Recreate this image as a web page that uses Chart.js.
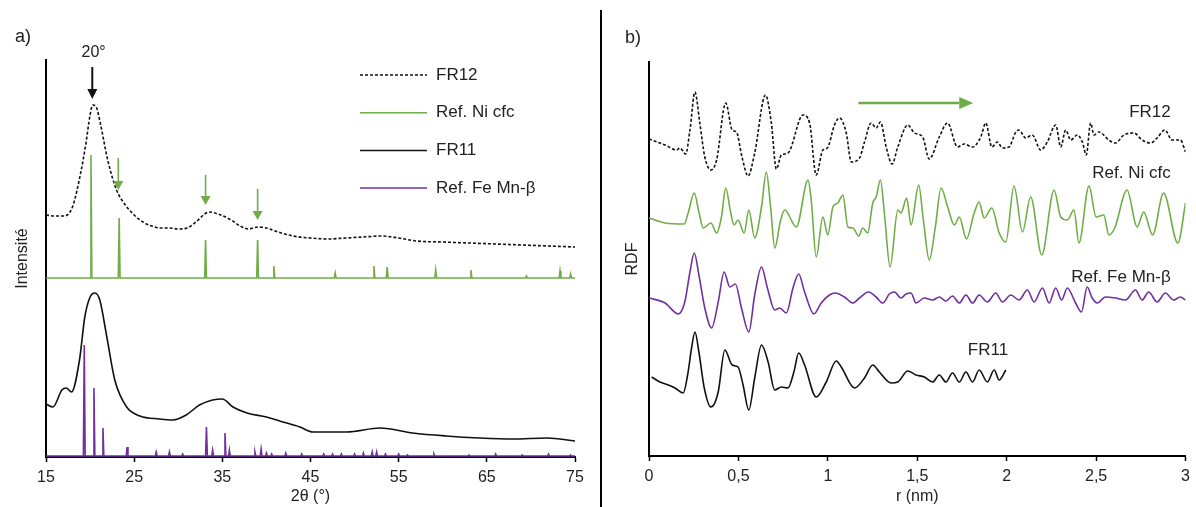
<!DOCTYPE html>
<html lang="fr">
<head>
<meta charset="utf-8">
<title>DRX et RDF - FR11 / FR12</title>
<script src="https://cdn.jsdelivr.net/npm/chart.js@4.4.1/dist/chart.umd.min.js"></script>
<style>
  html, body { margin: 0; padding: 0; background: #fff; }
  #page { position: relative; width: 1196px; height: 507px; overflow: hidden; font-family: "Liberation Sans", Arial, sans-serif; }
  #xrd { position: absolute; left: 0; top: 0; }
  #rdf { position: absolute; left: 600px; top: 0; }
  #sep { position: absolute; left: 600px; top: 10px; width: 2px; height: 497px; background: #000; }
  .tag { position: absolute; font-size: 18px; color: #222; line-height: 1; }
</style>
</head>
<body>
<div id="page">
  <canvas id="xrd" width="600" height="507"></canvas>
  <canvas id="rdf" width="596" height="507"></canvas>
  <div id="sep"></div>
  <div class="tag" style="left:15px; top:27px;">a)</div>
  <div class="tag" style="left:625px; top:28px;">b)</div>
</div>
<script>
// ---- a) diffractogrammes (2θ en degrés, intensité en u.a.) ----
const fr12Angle = [15, 16, 17, 18, 19, 19.5, 20, 20.3, 20.7, 21.2, 22, 23, 24, 25, 26, 27, 28, 29, 30, 31, 32, 33, 33.5, 34.5, 36, 37, 38, 39, 40, 41, 43, 45, 47, 49, 51, 53, 55, 57, 60, 63, 66, 69, 72, 75];
const fr12Int = [242, 241, 241, 250, 287, 312, 342, 352, 350, 332, 297, 267, 252, 242, 235, 231, 229, 229, 228, 229, 235, 243, 245, 243, 237, 231, 228, 230, 229, 226, 221, 219, 218, 219, 220, 221, 219, 216, 215, 214, 213, 212, 211, 210];

const fr11Angle = [15, 15.8, 16.8, 17.3, 17.9, 18.8, 19.4, 20, 20.55, 21.1, 21.9, 22.8, 24.15, 25.66, 27.9, 29.4, 30.9, 32.4, 33.9, 35, 36.2, 37.8, 40, 41.5, 43.8, 45.3, 49.1, 52.9, 56.6, 60.4, 64.2, 68, 71.8, 75];
const fr11Int = [53, 50, 67, 69, 65, 97, 140, 160, 164, 157, 120, 77, 50, 41, 38, 37, 42, 52, 57, 58, 50, 44, 40, 36, 30, 25, 25, 29, 24, 21, 19, 18, 19, 16];

const niPeakAngle = [20.1, 23.3, 33.1, 39.0, 40.85, 47.8, 52.2, 53.7, 59.2, 63.2, 69.5, 73.3, 74.5];
const niPeakInt = [302, 239, 217, 217, 191, 184, 191, 190, 187, 187, 181, 186, 183];
const niBase = 179;

const fePeakAngle = [19.34, 20.44, 21.46, 24.2, 27.5, 29.0, 30.5, 33.2, 33.9, 35.3, 35.8, 38.7, 39.4, 40.0, 40.6, 42.2, 44.0, 46.5, 47.5, 48.5, 50.0, 51.0, 52.0, 52.5, 53.5, 55.0, 56.0, 59.0, 63.0, 66.0, 69.0, 72.0, 74.5];
const fePeakInt = [112, 69, 29, 10, 5, 5, 3, 30, 7, 24, 7, 5, 8, 4, 3, 4, 3, 3, 3, 3, 3, 4, 5, 5, 3, 3, 2, 3, 2, 3, 2, 3, 2];
const feBase = 1;

// ---- b) fonctions de distribution radiale (r en nm) ----
const fr12R = [0, 0.09, 0.154, 0.173, 0.205, 0.229, 0.257, 0.284, 0.312, 0.346, 0.378, 0.429, 0.465, 0.489, 0.52, 0.554, 0.591, 0.651, 0.684, 0.712, 0.74, 0.777, 0.861, 0.898, 0.935, 0.972, 0.997, 1.037, 1.065, 1.103, 1.131, 1.177, 1.205, 1.242, 1.27, 1.294, 1.326, 1.359, 1.391, 1.447, 1.484, 1.53, 1.567, 1.623, 1.669, 1.725, 1.762, 1.809, 1.855, 1.883, 1.917, 1.948, 1.976, 2.013, 2.051, 2.069, 2.106, 2.143, 2.19, 2.227, 2.274, 2.302, 2.33, 2.358, 2.395, 2.423, 2.445, 2.469, 2.488, 2.516, 2.571, 2.608, 2.655, 2.711, 2.757, 2.804, 2.841, 2.884, 2.925, 2.971, 3.0];
const fr12Rdf = [317, 311, 306, 308, 302, 326, 364, 333, 299, 286, 296, 353, 326, 324, 299, 280, 303, 361, 333, 287, 301, 303, 341, 333, 281, 306, 308, 331, 338, 323, 294, 298, 314, 333, 328, 334, 309, 292, 309, 331, 323, 319, 297, 319, 333, 309, 312, 309, 319, 333, 309, 314, 308, 309, 324, 326, 318, 321, 306, 314, 331, 309, 326, 316, 321, 314, 301, 333, 321, 324, 316, 313, 321, 323, 316, 313, 318, 326, 316, 316, 304];

const niR = [0, 0.09, 0.197, 0.219, 0.253, 0.279, 0.303, 0.346, 0.378, 0.405, 0.429, 0.457, 0.476, 0.498, 0.532, 0.558, 0.591, 0.629, 0.656, 0.68, 0.703, 0.736, 0.759, 0.824, 0.889, 0.907, 0.935, 0.972, 1.0, 1.028, 1.056, 1.084, 1.112, 1.14, 1.173, 1.195, 1.223, 1.251, 1.27, 1.294, 1.316, 1.348, 1.391, 1.409, 1.441, 1.465, 1.508, 1.534, 1.567, 1.601, 1.633, 1.67, 1.707, 1.735, 1.775, 1.818, 1.846, 1.874, 1.917, 1.958, 1.995, 2.041, 2.088, 2.134, 2.196, 2.265, 2.302, 2.339, 2.376, 2.404, 2.46, 2.5, 2.543, 2.571, 2.604, 2.673, 2.729, 2.766, 2.816, 2.877, 2.957, 3.0];
const niRdf = [238, 233, 232, 243, 263, 244, 228, 233, 223, 239, 268, 243, 231, 236, 223, 246, 218, 249, 284, 249, 208, 236, 246, 229, 276, 256, 199, 239, 221, 249, 253, 261, 229, 228, 220, 228, 223, 253, 259, 276, 243, 189, 246, 243, 258, 231, 271, 236, 196, 229, 268, 249, 231, 239, 217, 243, 254, 238, 248, 223, 214, 270, 224, 259, 201, 266, 239, 236, 246, 213, 270, 239, 241, 221, 228, 266, 229, 244, 221, 263, 213, 253];

const feR = [0, 0.09, 0.164, 0.2, 0.229, 0.253, 0.279, 0.312, 0.35, 0.387, 0.42, 0.452, 0.483, 0.517, 0.558, 0.591, 0.629, 0.662, 0.703, 0.731, 0.768, 0.805, 0.837, 0.87, 0.922, 0.963, 1.009, 1.041, 1.093, 1.14, 1.177, 1.227, 1.27, 1.307, 1.344, 1.372, 1.409, 1.437, 1.465, 1.493, 1.539, 1.586, 1.623, 1.66, 1.697, 1.735, 1.772, 1.809, 1.846, 1.892, 1.939, 1.976, 2.023, 2.069, 2.116, 2.153, 2.2, 2.237, 2.274, 2.307, 2.339, 2.385, 2.418, 2.45, 2.478, 2.506, 2.553, 2.608, 2.664, 2.72, 2.757, 2.794, 2.841, 2.887, 2.934, 2.971, 3.0];
const feRdf = [158, 153, 142, 154, 184, 203, 181, 148, 128, 154, 184, 169, 172, 148, 124, 161, 189, 168, 146, 148, 143, 168, 182, 164, 142, 153, 161, 163, 159, 153, 158, 164, 159, 153, 162, 164, 158, 162, 163, 153, 158, 156, 159, 155, 160, 153, 161, 153, 161, 154, 163, 154, 161, 156, 166, 154, 168, 153, 168, 156, 168, 153, 144, 169, 158, 153, 159, 158, 156, 166, 156, 164, 154, 163, 156, 159, 156];

const fr11R = [0.015, 0.061, 0.108, 0.145, 0.191, 0.216, 0.238, 0.257, 0.279, 0.309, 0.346, 0.387, 0.424, 0.465, 0.498, 0.526, 0.558, 0.591, 0.629, 0.666, 0.703, 0.74, 0.777, 0.81, 0.837, 0.87, 0.935, 0.991, 1.047, 1.075, 1.149, 1.205, 1.251, 1.288, 1.354, 1.391, 1.447, 1.493, 1.539, 1.586, 1.623, 1.66, 1.697, 1.735, 1.772, 1.809, 1.846, 1.892, 1.93, 1.958, 1.995];
const fr11Rdf = [79, 74, 71, 68, 63, 81, 108, 124, 104, 68, 49, 64, 106, 91, 89, 71, 46, 78, 111, 94, 66, 69, 68, 84, 103, 91, 59, 74, 95, 89, 68, 78, 91, 84, 73, 74, 85, 81, 79, 74, 81, 74, 83, 74, 84, 74, 86, 74, 86, 76, 86];

const GREEN = '#70ad47';
const PURPLE = '#7030a0';
const INK = '#111';
const FONT = '"Liberation Sans", Arial, sans-serif';

function pts(xs, ys) {
    return xs.map((x, i) => ({ x: x, y: ys[i] }));
}

// reference pattern: thin peaks standing on a flat baseline
function sticks(pos, top, base, x0, x1) {
    const out = [{ x: x0, y: base }];
    pos.forEach((p, i) => {
        out.push({ x: p - 0.1, y: base }, { x: p, y: top[i] }, { x: p + 0.1, y: base });
    });
    out.push({ x: x1, y: base });
    return out;
}

/**
 * Arrows and free labels, given in data coordinates
 */
const notesPlugin = {
    id: 'notes',
    afterDatasetsDraw(chart, args, opts) {
        const { ctx } = chart;
        const sx = chart.scales.x, sy = chart.scales.y;
        ctx.save();
        (opts.arrows || []).forEach(a => {
            const x0 = sx.getPixelForValue(a.from[0]), y0 = sy.getPixelForValue(a.from[1]);
            const x1 = sx.getPixelForValue(a.to[0]), y1 = sy.getPixelForValue(a.to[1]);
            const ang = Math.atan2(y1 - y0, x1 - x0);
            const hl = a.head, hw = a.headW;
            const c = Math.cos(ang), s = Math.sin(ang);
            ctx.strokeStyle = a.color;
            ctx.fillStyle = a.color;
            ctx.lineWidth = a.width;
            ctx.beginPath();
            ctx.moveTo(x0, y0);
            ctx.lineTo(x1 - c * hl, y1 - s * hl);
            ctx.stroke();
            ctx.beginPath();
            ctx.moveTo(x1, y1);
            ctx.lineTo(x1 - c * hl - s * hw, y1 - s * hl + c * hw);
            ctx.lineTo(x1 - c * hl + s * hw, y1 - s * hl - c * hw);
            ctx.closePath();
            ctx.fill();
        });
        (opts.labels || []).forEach(t => {
            ctx.font = t.size + 'px ' + FONT;
            ctx.fillStyle = t.color || '#222';
            ctx.textAlign = t.align || 'center';
            ctx.textBaseline = 'middle';
            ctx.fillText(t.text, sx.getPixelForValue(t.at[0]), sy.getPixelForValue(t.at[1]));
        });
        ctx.restore();
    }
};

/**
 * Legend inside the plot, one row per dataset
 */
const insideLegend = {
    id: 'insideLegend',
    afterDraw(chart, args, opts) {
        const { ctx } = chart;
        ctx.save();
        chart.data.datasets.forEach((ds, i) => {
            const y = opts.top + i * opts.step;
            ctx.strokeStyle = ds.borderColor;
            ctx.lineWidth = 1.5;
            ctx.setLineDash(ds.borderDash || []);
            ctx.beginPath();
            ctx.moveTo(opts.left, y);
            ctx.lineTo(opts.left + opts.len, y);
            ctx.stroke();
            ctx.setLineDash([]);
            ctx.font = opts.size + 'px ' + FONT;
            ctx.fillStyle = '#222';
            ctx.textAlign = 'left';
            ctx.textBaseline = 'middle';
            ctx.fillText(ds.label, opts.left + opts.len + 9, y);
        });
        ctx.restore();
    }
};

function axisX(min, max, step, title, height, fmt) {
    return {
        type: 'linear', min: min, max: max,
        ticks: { stepSize: step, color: '#222', padding: 6, font: { family: FONT, size: 16 }, callback: fmt },
        grid: { drawOnChartArea: false, color: '#000', tickLength: 5, tickWidth: 1.5 },
        border: { color: '#000', width: 2 },
        title: { display: true, text: title, color: '#222', font: { family: FONT, size: 16 }, padding: { top: 0, bottom: 1 } },
        afterFit: s => { s.height = height; }
    };
}

function axisY(max, title, width, pad) {
    return {
        min: 0, max: max,
        ticks: { display: false },
        grid: { display: false },
        border: { color: '#000', width: 2 },
        title: { display: true, text: title, color: '#222', font: { family: FONT, size: 16 }, padding: { top: pad, bottom: 0 } },
        afterFit: s => { s.width = width; }
    };
}

document.addEventListener('DOMContentLoaded', function() {
    // a) XRD
    new Chart(document.getElementById('xrd'), {
        type: 'line',
        data: {
            datasets: [
                { label: 'FR12', data: pts(fr12Angle, fr12Int), borderColor: INK, borderDash: [3, 2], borderWidth: 1.6, cubicInterpolationMode: 'monotone' },
                { label: 'Ref. Ni cfc', data: sticks(niPeakAngle, niPeakInt, niBase, 15, 75), borderColor: GREEN, borderWidth: 1.6, tension: 0 },
                { label: 'FR11', data: pts(fr11Angle, fr11Int), borderColor: INK, borderWidth: 1.6, cubicInterpolationMode: 'monotone' },
                { label: 'Ref. Fe Mn-β', data: sticks(fePeakAngle, fePeakInt, feBase, 15, 75), borderColor: PURPLE, borderWidth: 1.6, tension: 0 }
            ]
        },
        options: {
            responsive: false,
            animation: false,
            elements: { point: { radius: 0 } },
            layout: { padding: { top: 60, right: 25, left: 0, bottom: 0 } },
            scales: {
                x: axisX(15, 75, 10, '2θ (°)', 50),
                y: axisY(397, 'Intensité', 46, 13)
            },
            plugins: {
                legend: { display: false },
                tooltip: { enabled: false },
                notes: {
                    arrows: [
                        { from: [20.25, 390], to: [20.25, 358], color: INK, width: 2, head: 10, headW: 5 },
                        { from: [23.2, 299], to: [23.2, 267], color: GREEN, width: 1.6, head: 9, headW: 5 },
                        { from: [33.1, 282], to: [33.1, 252], color: GREEN, width: 1.6, head: 9, headW: 5 },
                        { from: [39.0, 268], to: [39.0, 237], color: GREEN, width: 1.6, head: 9, headW: 5 }
                    ],
                    labels: [
                        { text: '20°', at: [20.4, 404], size: 16 }
                    ]
                },
                insideLegend: { left: 360, top: 75, step: 37.7, len: 67, size: 17 }
            }
        },
        plugins: [notesPlugin, insideLegend]
    });

    // b) RDF
    new Chart(document.getElementById('rdf'), {
        type: 'line',
        data: {
            datasets: [
                { label: 'FR12', data: pts(fr12R, fr12Rdf), borderColor: INK, borderDash: [3, 2], borderWidth: 1.6, cubicInterpolationMode: 'monotone' },
                { label: 'Ref. Ni cfc', data: pts(niR, niRdf), borderColor: GREEN, borderWidth: 1.6, cubicInterpolationMode: 'monotone' },
                { label: 'Ref. Fe Mn-β', data: pts(feR, feRdf), borderColor: PURPLE, borderWidth: 1.6, cubicInterpolationMode: 'monotone' },
                { label: 'FR11', data: pts(fr11R, fr11Rdf), borderColor: INK, borderWidth: 1.6, cubicInterpolationMode: 'monotone' }
            ]
        },
        options: {
            responsive: false,
            animation: false,
            elements: { point: { radius: 0 } },
            layout: { padding: { top: 62, right: 9, left: 0, bottom: 0 } },
            scales: {
                x: axisX(0, 3, 0.5, 'r (nm)', 51, v => String(v).replace('.', ',')),
                y: axisY(394, 'RDF', 49, 23)
            },
            plugins: {
                legend: { display: false },
                tooltip: { enabled: false },
                notes: {
                    arrows: [
                        { from: [1.171, 353], to: [1.813, 353], color: GREEN, width: 2.5, head: 14, headW: 6 }
                    ],
                    labels: [
                        { text: 'FR12', at: [2.917, 344], size: 17, align: 'right' },
                        { text: 'Ref. Ni cfc', at: [2.917, 283], size: 17, align: 'right' },
                        { text: 'Ref. Fe Mn-β', at: [2.917, 179], size: 17, align: 'right' },
                        { text: 'FR11', at: [2.008, 106], size: 17, align: 'right' }
                    ]
                }
            }
        },
        plugins: [notesPlugin]
    });
});
</script>
</body>
</html>
